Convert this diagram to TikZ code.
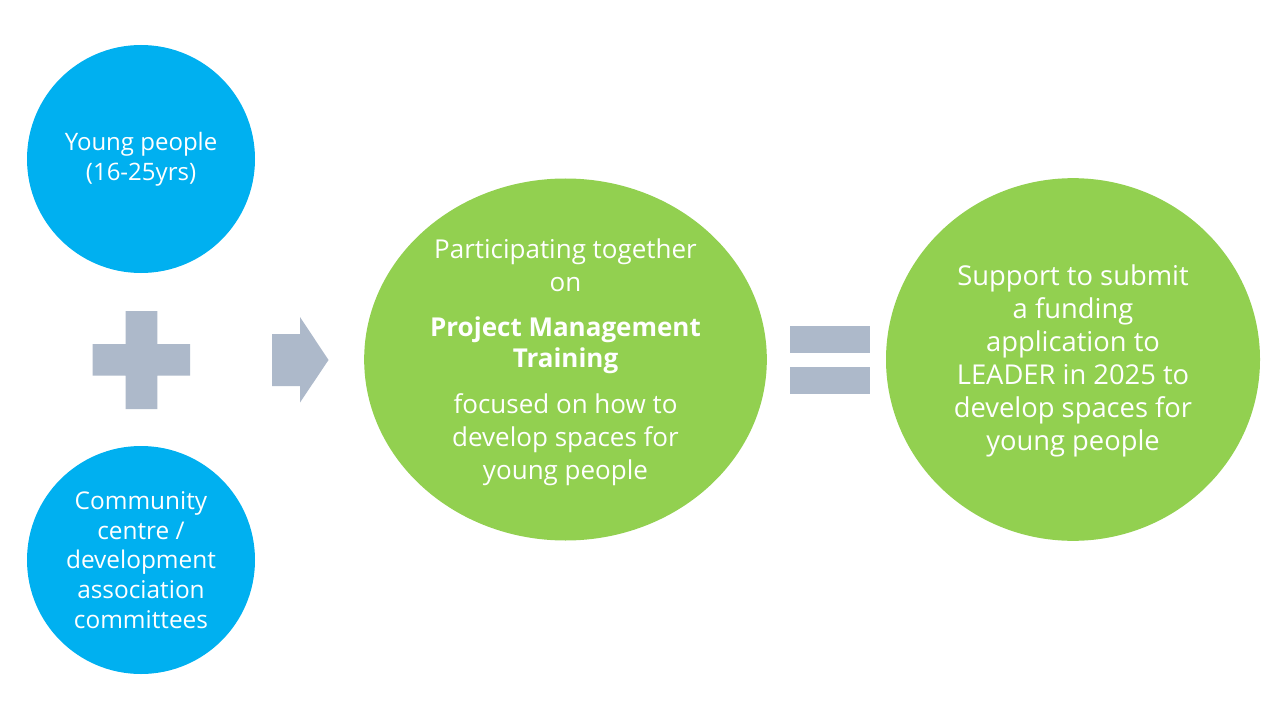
\documentclass[tikz,border=0pt]{standalone}
\usepackage{fontspec}
\setmainfont{Open Sans}
\usetikzlibrary{shapes.geometric}
\definecolor{cblue}{HTML}{00B0F0}
\definecolor{cgreen}{HTML}{92D050}
\definecolor{cgrey}{HTML}{ADB9CA}
\tikzset{
  bluecirc/.style={circle, fill=cblue, draw=none, inner sep=0pt, minimum size=171pt,
    text=white, align=center, font=\fontsize{18pt}{22.4pt}\selectfont},
  greenell/.style={ellipse, fill=cgreen, draw=none, inner sep=0pt},
  greentext/.style={text=white, align=center, inner sep=0pt},
  greyshape/.style={fill=cgrey, draw=none},
}
\begin{document}
\begin{tikzpicture}[x=0.75pt,y=-0.75pt]
\useasboundingbox (0,0) rectangle (1280,720);
\fill[white] (0,0) rectangle (1280,720);

\node[bluecirc] (young) at (141,159) {Young people\\(16-25yrs)};
\node[bluecirc, font=\fontsize{18.3pt}{22.2pt}\selectfont] (community) at (141,560) {Community\\centre /\\development\\association\\committees};

% plus
\fill[greyshape] (125.7,311) -- (157.3,311) -- (157.3,344) -- (190,344) -- (190,375.7)
  -- (157.3,375.7) -- (157.3,409) -- (125.7,409) -- (125.7,375.7) -- (92.7,375.7)
  -- (92.7,344) -- (125.7,344) -- cycle;

% arrow
\fill[greyshape] (272,334) -- (300,334) -- (300,317) -- (328.5,360) -- (300,402.5)
  -- (300,386) -- (272,386) -- cycle;

\node[greenell, minimum width=302pt, minimum height=271.5pt] (training) at (565.5,359.5) {};
\node[greentext, font=\fontsize{19.5pt}{24.75pt}\selectfont] (trainingtext) at (565.5,362)
  {Participating together\\on\\[9pt]\textbf{Project Management}\\[-1.5pt]\textbf{Training}\\[10pt]focused on how to\\develop spaces for\\young people};

% equals
\fill[greyshape] (790,326) rectangle (870,353);
\fill[greyshape] (790,367) rectangle (870,394);

\node[greenell, minimum width=280.5pt, minimum height=272pt] (support) at (1073,359.5) {};
\node[greentext, font=\fontsize{20.5pt}{24.75pt}\selectfont] (supporttext) at (1073,361)
  {Support to submit\\a funding\\application to\\LEADER in 2025 to\\develop spaces for\\young people};
\end{tikzpicture}
\end{document}
